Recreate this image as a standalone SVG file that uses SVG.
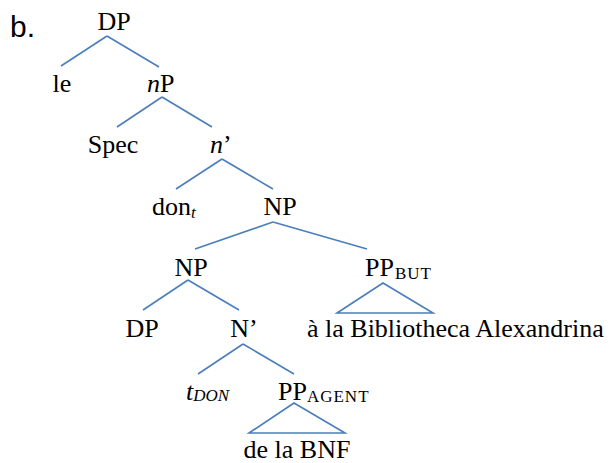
<svg xmlns="http://www.w3.org/2000/svg" width="612" height="463" viewBox="0 0 612 463">
<style>
.t{font-family:'Liberation Serif','DejaVu Serif',serif;font-size:26px;fill:#000}
.m{text-anchor:middle}
.i{font-style:italic}
.sub{font-size:17px;letter-spacing:1px}
.lbl{font-family:'Liberation Sans','DejaVu Sans',sans-serif;font-size:30px;fill:#000}
#connectors line,#connectors polygon{stroke:#4A7EBB;stroke-width:1.6;fill:none}
</style>
<rect width="612" height="463" fill="#fff"/>
<text class="lbl" x="10" y="37">b.</text>
<g id="connectors">
<line x1="107" y1="36" x2="61" y2="66"/>
<line x1="107" y1="36" x2="159" y2="67"/>
<line x1="162" y1="97" x2="117" y2="127"/>
<line x1="162" y1="97" x2="212" y2="127"/>
<line x1="222" y1="159" x2="176" y2="189"/>
<line x1="222" y1="159" x2="273" y2="189"/>
<line x1="273" y1="222" x2="195" y2="249"/>
<line x1="273" y1="222" x2="367" y2="249"/>
<line x1="188" y1="280" x2="143" y2="310"/>
<line x1="188" y1="280" x2="239" y2="310"/>
<polygon points="383,283 337,313 433,313"/>
<line x1="243" y1="344" x2="198" y2="374"/>
<line x1="243" y1="344" x2="294" y2="374"/>
<polygon points="294,403 249,433 345,433"/>
</g>
<g font-family="Liberation Serif, DejaVu Serif, serif">
<g id="n-DP"><text class="t m" x="114" y="30">DP</text></g>
<g id="n-le"><text class="t m" x="62" y="92">le</text></g>
<g id="n-nP"><text class="t" x="147" y="92"><tspan class="i">n</tspan>P</text></g>
<g id="n-Spec"><text class="t m" x="113" y="153">Spec</text></g>
<g id="n-nbar"><text class="t" x="210" y="153"><tspan class="i">n</tspan>’</text></g>
<g id="n-don"><text class="t" x="152" y="215">don<tspan class="i sub" dy="3">t</tspan></text></g>
<g id="n-NP1"><text class="t m" x="280" y="215">NP</text></g>
<g id="n-NP2"><text class="t m" x="191" y="276">NP</text></g>
<g id="n-PPBUT"><text class="t" x="365" y="276">PP<tspan class="sub" dx="1" dy="3">BUT</tspan></text></g>
<g id="n-DP2"><text class="t m" x="142" y="337">DP</text></g>
<g id="n-Nbar"><text class="t m" x="244" y="337">N’</text></g>
<g id="n-bib"><text class="t" x="307" y="337">à la Bibliotheca Alexandrina</text></g>
<g id="n-tDON"><text class="t i" x="186" y="400">t<tspan style="font-size:17px" dy="1">DON</tspan></text></g>
<g id="n-PPAGENT"><text class="t" x="278" y="400">PP<tspan class="sub" dy="2">AGENT</tspan></text></g>
<g id="n-BNF"><text class="t m" x="297" y="458">de la BNF</text></g>
</g>
</svg>
